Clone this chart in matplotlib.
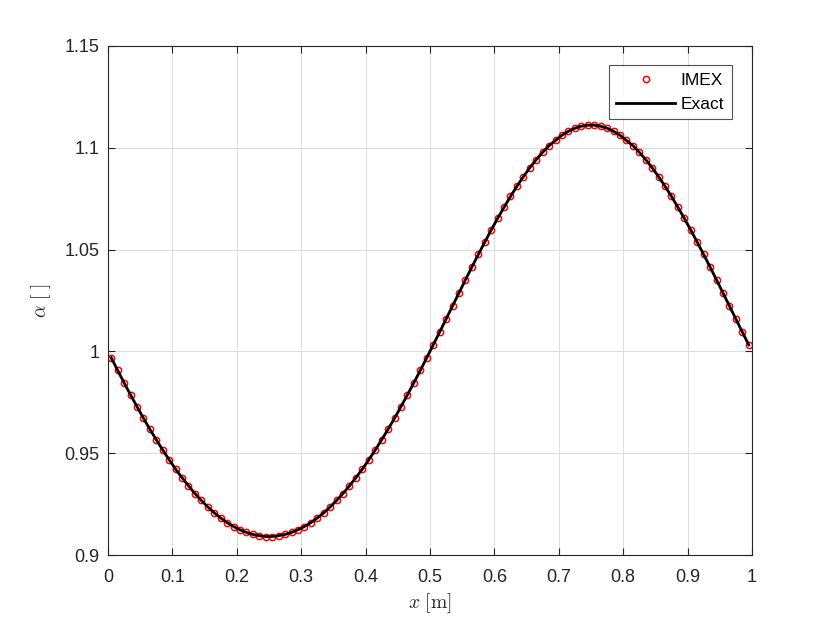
import matplotlib.pyplot as plt
from matplotlib.ticker import FuncFormatter

# cell centres, 0.005 .. 0.995
x = [0.005 + 0.01 * i for i in range(100)]

alpha_imex = [
    0.9969, 0.9907, 0.9846, 0.9787, 0.9729, 0.9672, 0.9618, 0.9566, 0.9516, 0.9468,
    0.9422, 0.9380, 0.9340, 0.9302, 0.9268, 0.9236, 0.9207, 0.9182, 0.9159, 0.9140,
    0.9124, 0.9111, 0.9101, 0.9095, 0.9091, 0.9091, 0.9095, 0.9101, 0.9111, 0.9124,
    0.9140, 0.9159, 0.9182, 0.9207, 0.9236, 0.9268, 0.9302, 0.9340, 0.9380, 0.9422,
    0.9468, 0.9516, 0.9566, 0.9618, 0.9672, 0.9729, 0.9787, 0.9846, 0.9907, 0.9969,
    1.0032, 1.0095, 1.0159, 1.0223, 1.0287, 1.0351, 1.0414, 1.0476, 1.0536, 1.0596,
    1.0653, 1.0708, 1.0761, 1.0811, 1.0858, 1.0902, 1.0942, 1.0978, 1.1011, 1.1036,
    1.1062, 1.1081, 1.1096, 1.1106, 1.1111, 1.1111, 1.1106, 1.1096, 1.1081, 1.1062,
    1.1036, 1.1011, 1.0978, 1.0942, 1.0902, 1.0858, 1.0811, 1.0761, 1.0708, 1.0653,
    1.0596, 1.0536, 1.0476, 1.0414, 1.0351, 1.0287, 1.0223, 1.0159, 1.0095, 1.0032,
]
alpha_exact = alpha_imex

xticks = [0, 0.1, 0.2, 0.3, 0.4, 0.5, 0.6, 0.7, 0.8, 0.9, 1]
yticks = [0.9, 0.95, 1.0, 1.05, 1.1, 1.15]

plt.rcParams['font.family'] = ['Liberation Sans', 'DejaVu Sans']
plt.rcParams['mathtext.fontset'] = 'cm'

axc = (0.15, 0.15, 0.15)

fig = plt.figure(figsize=(8.3, 6.23), dpi=100)
ax = fig.add_axes([0.1301, 0.1091, 0.7759, 0.8171])

ax.plot(x, alpha_imex, 'o', color='red', markerfacecolor='none',
        markersize=4.5, markeredgewidth=1.1, label='IMEX', zorder=2)
ax.plot(x, alpha_exact, '-', color='black', linewidth=2, label='Exact', zorder=3)

ax.set_xlim(0, 1)
ax.set_ylim(0.9, 1.15)
ax.set_xticks(xticks)
ax.set_yticks(yticks)
fmt = FuncFormatter(lambda v, p: ('%g' % round(v, 3)))
ax.xaxis.set_major_formatter(fmt)
ax.yaxis.set_major_formatter(fmt)

ax.grid(True, color=(0.87, 0.87, 0.87), linewidth=0.8)
ax.set_axisbelow(True)
ax.tick_params(direction='in', length=5, width=0.8, colors=axc,
               labelsize=13, top=True, right=True)
ax.tick_params(axis='x', pad=10)
ax.tick_params(axis='y', pad=6)
for s in ax.spines.values():
    s.set_color(axc)
    s.set_linewidth(0.8)

ax.set_xlabel(r'$x\ [\mathrm{m}]$', fontsize=14, color=axc, labelpad=4)
ax.set_ylabel(r'$\alpha\ [\ ]$', fontsize=14, color=axc, labelpad=8)

leg = ax.legend(loc='upper right', fontsize=12.5, frameon=True, fancybox=False,
                edgecolor=axc, borderpad=0.45, handlelength=3.4, handletextpad=0.3,
                bbox_to_anchor=(0.969, 0.963), labelspacing=0.5, borderaxespad=0)
leg.get_frame().set_linewidth(0.8)

fig.savefig('out.png', dpi=100)
